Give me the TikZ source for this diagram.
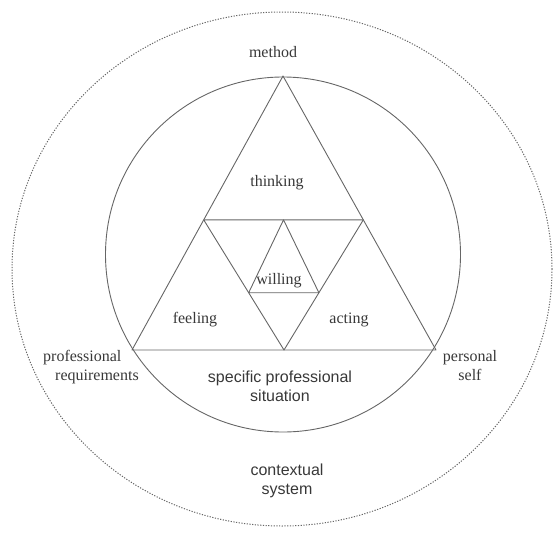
\documentclass[tikz,border=0pt]{standalone}
\usepackage{fontspec}
\setmainfont{Liberation Serif}
\setsansfont{Liberation Sans}
\usepackage{tikz}
\usetikzlibrary{positioning,calc}
\definecolor{ink}{gray}{0.40}
\definecolor{print}{gray}{0.22}
\tikzstyle{lbl}=[text=print,font=\fontsize{16}{19}\selectfont,inner sep=0pt,align=center]
\tikzstyle{slbl}=[lbl,font=\sffamily\fontsize{16}{19}\selectfont]
\tikzstyle{edge}=[draw=ink,line width=0.9pt]

\begin{document}
\begin{tikzpicture}[x=1pt,y=-1pt,line join=round]
  \useasboundingbox (0,0) rectangle (555,533);
  \draw[ink,line width=1pt,dash pattern=on 1.2pt off 1.5pt] (282,269) ellipse [x radius=270,y radius=257];
  \draw[edge] (283,254.5) circle [radius=177.5];

  \coordinate (apex) at (283,76);
  \coordinate (left) at (132,350);
  \coordinate (right) at (436,350);
  \coordinate (ml) at ($(apex)!0.525!(left)$);
  \coordinate (mr) at ($(apex)!0.525!(right)$);
  \coordinate (mb) at ($(left)!0.5!(right)$);
  \coordinate (mt) at ($(ml)!0.5!(mr)$);
  \coordinate (wl) at ($(ml)!0.56!(mb)$);
  \coordinate (wr) at ($(mr)!0.56!(mb)$);

  \draw[edge] (apex) -- (left) -- (right) -- cycle;
  \draw[edge] (ml) -- (mr) -- (mb) -- cycle;
  \draw[edge] (mt) -- (wl) -- (wr) -- cycle;

  \node[lbl] (method) at (273,52) {method};
  \node[lbl] (thinking) at (277,183) {thinking};
  \node[lbl] (willing) at (279,281) {willing};
  \node[lbl] (feeling) at (195,320) {feeling};
  \node[lbl] (acting) at (349,320) {acting};
  \node[lbl,align=left] (profreq) at (91,367) {professional\\\hspace*{12pt}requirements};
  \node[lbl] (self) at (470,366) {personal\\self};
  \node[slbl] (situation) at (280,386) {specific professional\\situation};
  \node[slbl] (context) at (287,481) {contextual\\system};
\end{tikzpicture}
\end{document}
